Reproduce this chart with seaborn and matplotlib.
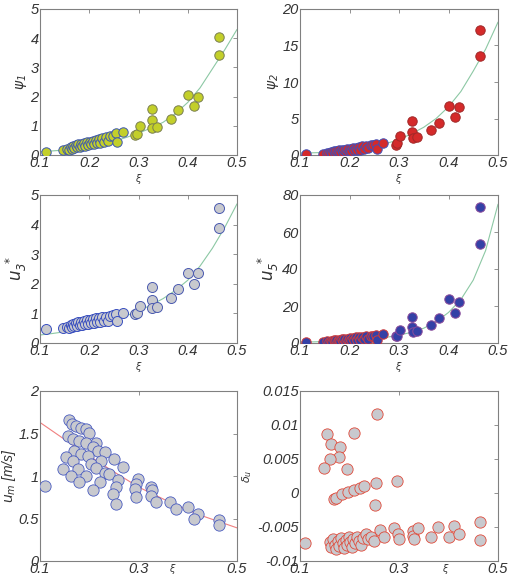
import numpy as np
import pandas as pd
import matplotlib
matplotlib.use('Agg')
import matplotlib.pyplot as plt
import seaborn as sns

# shared xi values for the four upper panels (first 35 are the dense cluster)
xi_top = [0.112, 0.147, 0.155, 0.158, 0.162, 0.165, 0.168, 0.170, 0.173, 0.176,
          0.178, 0.181, 0.184, 0.186, 0.189, 0.192, 0.195, 0.198, 0.201, 0.204,
          0.207, 0.210, 0.213, 0.216, 0.219, 0.222, 0.226, 0.230, 0.234, 0.238,
          0.243, 0.248, 0.254, 0.256, 0.268, 0.293, 0.296, 0.303, 0.327, 0.327,
          0.328, 0.337, 0.365, 0.380, 0.400, 0.413, 0.421, 0.463, 0.464]
n_cluster = 35

psi1 = [0.11, 0.17, 0.22, 0.18, 0.28, 0.21, 0.30, 0.24, 0.33, 0.26,
        0.36, 0.28, 0.38, 0.30, 0.41, 0.31, 0.44, 0.34, 0.46, 0.36,
        0.49, 0.38, 0.52, 0.40, 0.55, 0.42, 0.58, 0.45, 0.61, 0.48,
        0.64, 0.66, 0.74, 0.45, 0.78, 0.68, 0.72, 0.99, 1.57, 1.19,
        0.93, 0.97, 1.25, 1.54, 2.07, 1.69, 2.00, 4.05, 3.42]
psi2 = [0.10, 0.20, 0.30, 0.22, 0.42, 0.28, 0.48, 0.34, 0.55, 0.38,
        0.62, 0.42, 0.68, 0.46, 0.75, 0.50, 0.82, 0.55, 0.88, 0.60,
        0.95, 0.65, 1.02, 0.70, 1.10, 0.75, 1.18, 0.82, 1.26, 0.90,
        1.35, 1.40, 1.55, 0.80, 1.70, 1.40, 1.60, 2.60, 4.60, 3.20,
        2.30, 2.40, 3.40, 4.40, 6.75, 5.20, 6.60, 17.1, 13.5]
u3 = [0.48, 0.50, 0.55, 0.50, 0.62, 0.53, 0.65, 0.56, 0.68, 0.58,
      0.70, 0.60, 0.72, 0.62, 0.75, 0.63, 0.77, 0.65, 0.79, 0.67,
      0.81, 0.68, 0.83, 0.70, 0.85, 0.72, 0.87, 0.74, 0.89, 0.76,
      0.92, 0.94, 0.98, 0.73, 1.03, 0.97, 1.00, 1.25, 1.88, 1.45,
      1.17, 1.22, 1.51, 1.82, 2.38, 1.98, 2.36, 4.55, 3.90]
u5 = [0.5, 0.6, 0.9, 0.7, 1.2, 0.8, 1.4, 0.9, 1.6, 1.0,
      1.8, 1.1, 2.0, 1.2, 2.2, 1.3, 2.4, 1.4, 2.6, 1.5,
      2.8, 1.6, 3.0, 1.7, 3.2, 1.8, 3.4, 1.9, 3.6, 2.0,
      3.8, 4.0, 4.4, 1.6, 4.9, 3.6, 3.9, 7.0, 14.1, 8.9,
      6.2, 6.3, 9.9, 13.5, 23.6, 16.3, 22.3, 73.3, 53.3]

# fitted curves
xi_fit = [0.1, 0.125, 0.15, 0.175, 0.2, 0.225, 0.25, 0.275, 0.3,
          0.325, 0.35, 0.375, 0.4, 0.425, 0.45, 0.475, 0.5]
psi1_fit = [0.12, 0.14, 0.17, 0.22, 0.28, 0.36, 0.47, 0.60, 0.75,
            0.92, 1.12, 1.42, 1.80, 2.30, 2.95, 3.60, 4.30]
psi2_fit = [0.30, 0.30, 0.35, 0.45, 0.60, 0.85, 1.15, 1.60, 2.10,
            2.90, 3.80, 5.00, 6.60, 8.70, 11.5, 14.5, 18.2]
u3_fit = [0.27, 0.32, 0.38, 0.46, 0.55, 0.66, 0.78, 0.92, 1.08,
          1.28, 1.50, 1.78, 2.12, 2.60, 3.20, 3.90, 4.70]
u5_fit = [0.5, 0.6, 0.8, 1.0, 1.3, 1.7, 2.3, 3.1, 4.2,
          5.8, 8.0, 11.5, 16.5, 23.5, 34.0, 50.0, 75.0]
um_fit = [1.63, 1.53, 1.43, 1.33, 1.24, 1.14, 1.05, 0.96, 0.87,
          0.80, 0.73, 0.66, 0.60, 0.54, 0.49, 0.44, 0.39]

# mean velocity panel
xi_um = [0.111, 0.158, 0.164, 0.174, 0.184, 0.194, 0.200, 0.157, 0.167, 0.180,
         0.194, 0.214, 0.207, 0.218, 0.231, 0.170, 0.184, 0.197, 0.153, 0.167,
         0.224, 0.251, 0.268, 0.147, 0.177, 0.204, 0.214, 0.231, 0.241, 0.162,
         0.194, 0.180, 0.221, 0.258, 0.255, 0.208, 0.249, 0.255, 0.299, 0.295,
         0.292, 0.294, 0.326, 0.327, 0.326, 0.336, 0.364, 0.377, 0.401, 0.420,
         0.412, 0.464, 0.464]
um = [0.88, 1.66, 1.61, 1.59, 1.57, 1.55, 1.51, 1.47, 1.43, 1.41,
      1.39, 1.39, 1.34, 1.30, 1.28, 1.30, 1.26, 1.24, 1.22, 1.18,
      1.18, 1.20, 1.11, 1.08, 1.08, 1.14, 1.10, 1.04, 1.02, 1.00,
      1.00, 0.93, 0.93, 0.95, 0.87, 0.83, 0.79, 0.67, 0.96, 0.91,
      0.85, 0.75, 0.87, 0.83, 0.77, 0.69, 0.70, 0.61, 0.63, 0.55,
      0.50, 0.48, 0.42]

# delta_u panel
xi_du = [0.111, 0.256, 0.155, 0.210, 0.163, 0.181, 0.178, 0.161, 0.148, 0.195,
         0.169, 0.172, 0.184, 0.197, 0.210, 0.221, 0.229, 0.254, 0.295, 0.252,
         0.160, 0.163, 0.166, 0.170, 0.173, 0.176, 0.179, 0.183, 0.186, 0.189,
         0.192, 0.195, 0.198, 0.202, 0.205, 0.208, 0.212, 0.216, 0.220, 0.224,
         0.228, 0.233, 0.238, 0.243, 0.250, 0.261, 0.270, 0.290, 0.298, 0.300,
         0.328, 0.328, 0.330, 0.338, 0.365, 0.379, 0.400, 0.412, 0.421, 0.463,
         0.463]
du = [-0.0073, 0.0116, 0.0087, 0.0088, 0.0072, 0.0067, 0.0053, 0.0050, 0.0037, 0.0035,
      -0.0009, -0.0008, -0.0002, 0.0001, 0.0005, 0.0008, 0.0010, 0.0014, 0.0018, -0.0018,
      -0.0072, -0.0080, -0.0068, -0.0076, -0.0083, -0.0070, -0.0078, -0.0066, -0.0074, -0.0081,
      -0.0069, -0.0076, -0.0065, -0.0072, -0.0079, -0.0067, -0.0074, -0.0064, -0.0071, -0.0077,
      -0.0066, -0.0061, -0.0068, -0.0064, -0.0070, -0.0055, -0.0065, -0.0052, -0.0061, -0.0068,
      -0.0056, -0.0063, -0.0068, -0.0051, -0.0064, -0.0050, -0.0065, -0.0049, -0.0061, -0.0042,
      -0.0069]

sns.set_style('white')
plt.rcParams['font.family'] = ['Liberation Sans', 'DejaVu Sans']
plt.rcParams['font.style'] = 'italic'
plt.rcParams['mathtext.fontset'] = 'dejavusans'

fig = plt.figure(figsize=(5.09, 5.78), dpi=100)
col_l = [40 / 509, 300 / 509]
col_w = [197 / 509, 198 / 509]
rows = [(1 - 155 / 578, 146 / 578), (1 - 343 / 578, 148 / 578), (1 - 561 / 578, 170 / 578)]

fit_col = '#8cc8a4'
gray = '#c8c9ce'
txt = '#333333'


def make_ax(r, c):
    ax = fig.add_axes([col_l[c], rows[r][0], col_w[c], rows[r][1]])
    for s in ax.spines.values():
        s.set_color('#808080')
        s.set_linewidth(0.8)
    ax.tick_params(direction='in', top=True, right=True, length=3, width=0.6,
                   color='#808080', labelsize=10.5, labelcolor=txt, pad=1)
    return ax


def scatter_two(ax, x, y, face, edge_cluster, edge_rest, size):
    df = pd.DataFrame({'xi': x, 'y': y})
    sns.scatterplot(data=df.iloc[:n_cluster], x='xi', y='y', ax=ax, color=face,
                    edgecolor=edge_cluster, linewidth=0.7, s=size, zorder=3)
    sns.scatterplot(data=df.iloc[n_cluster:], x='xi', y='y', ax=ax, color=face,
                    edgecolor=edge_rest, linewidth=0.7, s=size, zorder=3)


def fit_line(ax, yfit, col):
    sns.lineplot(x=xi_fit, y=yfit, ax=ax, color=col, linewidth=0.8,
                 sort=False, estimator=None, zorder=2)


panels = [
    (0, 0, psi1, psi1_fit, '#c3cf2a', '#3c56b0', '#7a7f50', (0, 5), [0, 1, 2, 3, 4, 5], r'$\psi_1$', 46),
    (0, 1, psi2, psi2_fit, '#d42a2a', '#4050b8', '#a02828', (0, 20), [0, 5, 10, 15, 20], r'$\psi_2$', 46),
    (1, 0, u3, u3_fit, gray, '#3a50c0', '#4a5ab0', (0, 5), [0, 1, 2, 3, 4, 5], r'$u_3^{\ *}$', 52),
    (1, 1, u5, u5_fit, '#3441a6', '#d03a3a', '#8a4a9a', (0, 80), [0, 20, 40, 60, 80], r'$u_5^{\ *}$', 46),
]

for r, c, yv, yf, face, ec, er, ylim, yt, ylab, sz in panels:
    ax = make_ax(r, c)
    fit_line(ax, yf, fit_col)
    scatter_two(ax, xi_top, yv, face, ec, er, sz)
    ax.set_xlim(0.1, 0.5)
    ax.set_ylim(*ylim)
    ax.set_xticks([0.1, 0.2, 0.3, 0.4, 0.5])
    ax.set_xticklabels(['0.1', '0.2', '0.3', '0.4', '0.5'])
    ax.set_yticks(yt)
    ax.set_yticklabels([str(v) for v in yt])
    ax.set_xlabel(r'$\xi$', fontsize=7, labelpad=1, color=txt)
    ax.set_ylabel(ylab, fontsize=12 if r == 1 else 10, labelpad=1, color=txt)

# bottom left: mean velocity
ax = make_ax(2, 0)
sns.lineplot(x=xi_fit, y=um_fit, ax=ax, color='#f08080', linewidth=0.8,
             sort=False, estimator=None, zorder=2)
sns.scatterplot(x=xi_um, y=um, ax=ax, color=gray, edgecolor='#4a5cc0',
                linewidth=0.6, s=66, zorder=3)
ax.set_xlim(0.1, 0.5)
ax.set_ylim(0, 2)
ax.set_xticks([0.1, 0.3, 0.5])
ax.set_xticklabels(['0.1', '0.3', '0.5'])
ax.set_yticks([0, 0.5, 1, 1.5, 2])
ax.set_yticklabels(['0', '0.5', '1', '1.5', '2'])
ax.set_xlabel('')
ax.set_ylabel(r'$u_m$ [m/s]', fontsize=10, labelpad=0, color=txt)
ax.text(0.37, -0.05, r'$\xi$', transform=ax.get_xaxis_transform(), fontsize=7,
        ha='center', va='center', color=txt)

# bottom right: delta_u
ax = make_ax(2, 1)
sns.scatterplot(x=xi_du, y=du, ax=ax, color=gray, edgecolor='#e04a3a',
                linewidth=0.6, s=66, zorder=3)
ax.set_xlim(0.1, 0.5)
ax.set_ylim(-0.01, 0.015)
ax.set_xticks([0.1, 0.3, 0.5])
ax.set_xticklabels(['0.1', '0.3', '0.5'])
ax.set_yticks([-0.01, -0.005, 0, 0.005, 0.01, 0.015])
ax.set_yticklabels(['-0.01', '-0.005', '0', '0.005', '0.01', '0.015'])
ax.set_xlabel('')
ax.set_ylabel(r'$\delta_u$', fontsize=8, labelpad=2, color=txt)
ax.text(0.395, -0.05, r'$\xi$', transform=ax.get_xaxis_transform(), fontsize=7,
        ha='center', va='center', color=txt)

fig.savefig('out.png', dpi=100)
